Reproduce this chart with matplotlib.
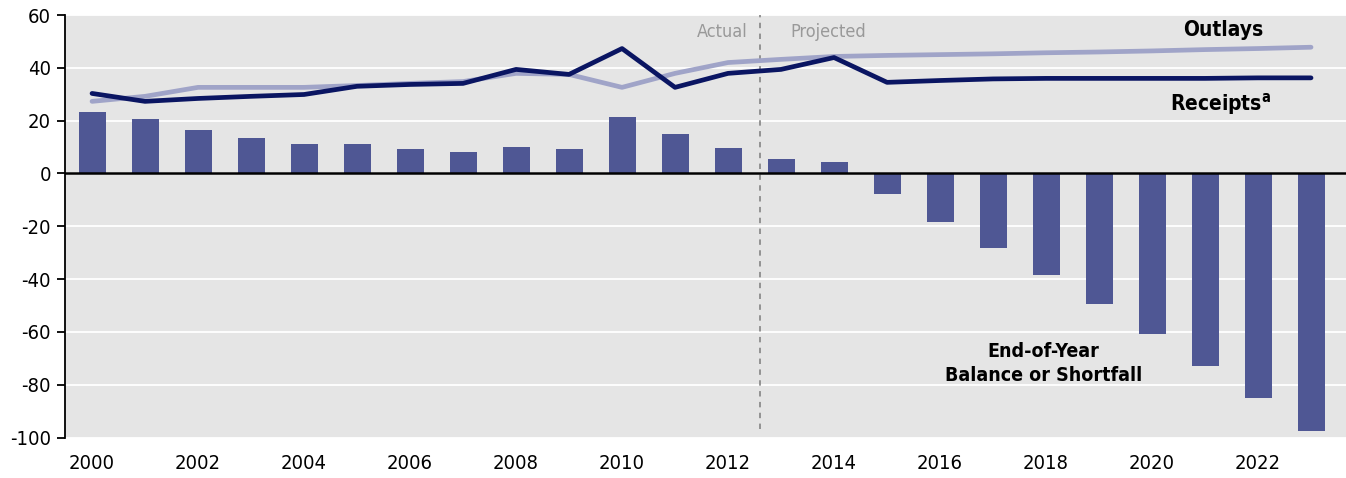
import matplotlib.pyplot as plt

years = list(range(2000, 2024))
balance = [23.1, 20.8, 16.3, 13.3, 11.0, 11.0, 9.1, 8.3, 10.2, 9.1, 21.2, 14.8,
           9.8, 5.3, 4.2, -7.6, -18.2, -28.4, -38.6, -49.6, -60.9, -73.0, -85.2, -97.6]
receipts = [30.3, 27.3, 28.4, 29.2, 29.9, 33.0, 33.7, 34.1, 39.4, 37.5, 47.3, 32.6,
            37.9, 39.4, 43.9, 34.5, 35.2, 35.8, 36.0, 36.0, 36.0, 36.0, 36.2, 36.2]
outlays = [27.3, 29.2, 32.6, 32.6, 32.6, 33.3, 34.1, 34.8, 37.9, 37.5, 32.6, 37.9,
           42.0, 43.2, 44.3, 44.7, 45.0, 45.3, 45.7, 46.0, 46.4, 46.9, 47.3, 47.8]
xticks = list(range(2000, 2024, 2))
yticks = list(range(-100, 61, 20))

plt.rcParams['font.family'] = ['DejaVu Sans']
plt.rcParams['font.stretch'] = 'condensed'
plt.rcParams['axes.unicode_minus'] = False

fig = plt.figure(figsize=(13.46, 4.78), dpi=100)
ax = fig.add_axes([0.0483, 0.0847, 0.9517, 0.8839])
ax.set_facecolor('#e5e5e5')

ax.bar(years, balance, width=0.51, color='#4f5794', zorder=2)
ax.plot(years, outlays, color='#a0a4c8', lw=3.4, solid_capstyle='round', zorder=3)
ax.plot(years, receipts, color='#0a1562', lw=3.4, solid_capstyle='round', zorder=4)
ax.axhline(0, color='black', lw=1.8, zorder=5)
ax.axvline(2012.6, ymin=0.02, color='#8c8c8c', lw=1.3, ls=(0, (3, 3)), zorder=1)

ax.set_xlim(1999.49, 2023.66)
ax.set_ylim(-100, 60)
ax.set_xticks(xticks)
ax.set_yticks(yticks)
ax.grid(axis='y', color='white', lw=1.3, zorder=0)
ax.set_axisbelow(True)
for s in ['top', 'right', 'bottom']:
    ax.spines[s].set_visible(False)
ax.spines['left'].set_linewidth(1.3)
ax.tick_params(axis='x', length=0, pad=12, labelsize=14.5)
ax.tick_params(axis='y', length=6, width=1.3, pad=4, labelsize=14.5)

ax.text(2011.9, 53.5, 'Actual', color='#999999', fontsize=13, ha='center', va='center')
ax.text(2013.9, 53.5, 'Projected', color='#999999', fontsize=13, ha='center', va='center')
ax.text(2021.35, 54.3, 'Outlays', fontweight='bold', fontsize=15, ha='center', va='center')
ax.text(2021.3, 26.3, 'Receipts$^{\\mathbf{a}}$', fontweight='bold', fontsize=15,
        ha='center', va='center')
ax.text(2017.95, -72, 'End-of-Year\nBalance or Shortfall', fontweight='bold', fontsize=14,
        ha='center', va='center', linespacing=1.3)

fig.savefig('out.png', dpi=100)
